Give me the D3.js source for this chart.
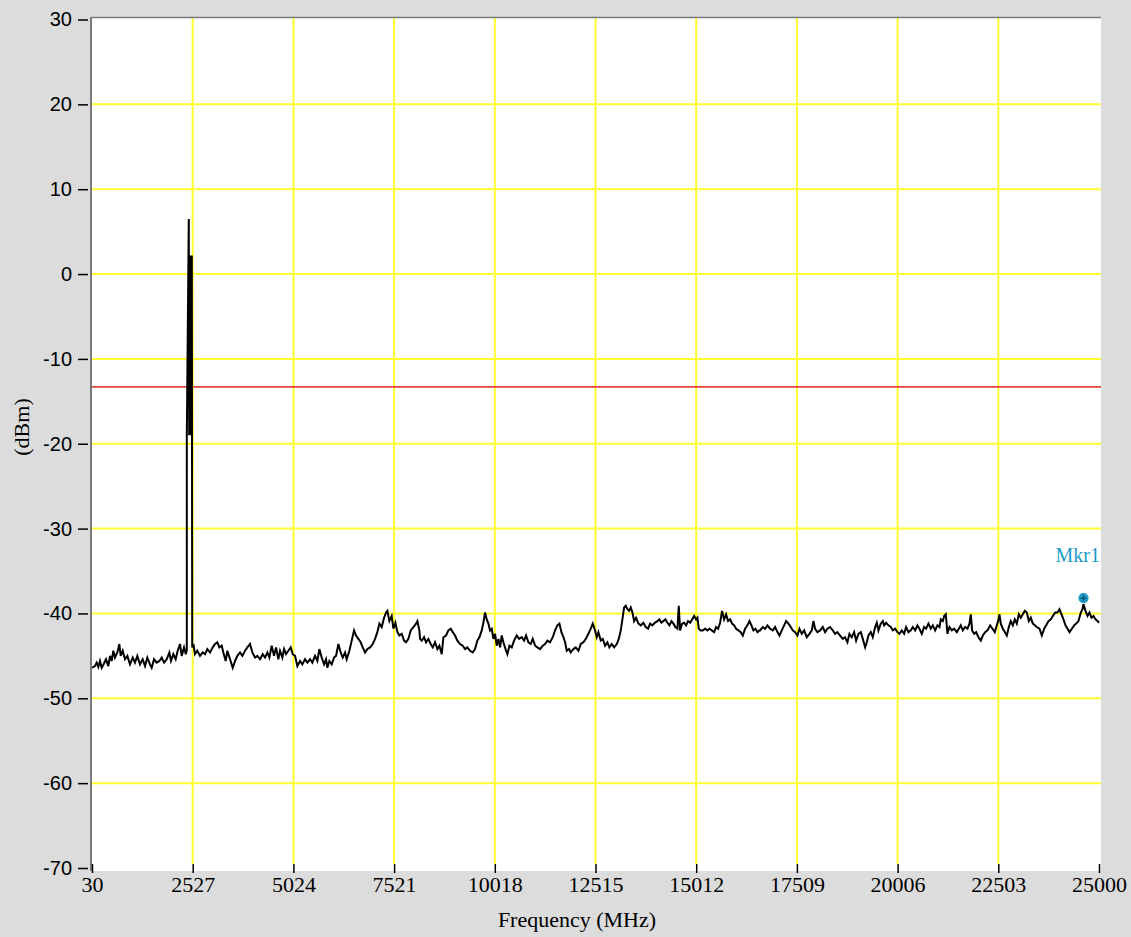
<!DOCTYPE html>
<html><head><meta charset="utf-8">
<script src="https://cdn.jsdelivr.net/npm/d3@7"></script>
<style>body{margin:0;background:#dcdcdc;} svg{display:block}</style>
</head><body>
<svg id="chart" width="1131" height="937"></svg>
<script>
// ---------- data ----------
const xTickValues = [30, 2527, 5024, 7521, 10018, 12515, 15012, 17509, 20006, 22503, 25000];
const yTickValues = [30, 20, 10, 0, -10, -20, -30, -40, -50, -60, -70];
const limitDbm = -13.3;
const markerFreq = 24615;
const markerDbm = -38.9;
const markerLabel = "Mkr1";
const xAxisTitle = "Frequency (MHz)";
const yAxisTitle = "(dBm)";
// trace: [frequency MHz, level dBm]
const traceData = [
[30,-46.4],[104,-46.2],[146,-45.8],[187,-46.3],[228,-45.6],[270,-46.4],[328,-45.9],[377,-45.4],[435,-46.2],[476,-45.0],[518,-45.6],[559,-44.4],[600,-45.2],[658,-44.6],[708,-43.6],[741,-45.0],[791,-44.4],[848,-45.4],[906,-45.0],[972,-46.0],[1039,-45.2],[1096,-45.8],[1154,-45.0],[1220,-46.0],[1287,-45.4],[1344,-46.2],[1402,-45.2],[1468,-46.0],[1510,-46.4],[1568,-45.4],[1634,-45.8],[1700,-45.6],[1758,-45.2],[1816,-45.8],[1882,-45.4],[1948,-44.6],[1989,-45.6],[2047,-44.8],[2105,-45.4],[2155,-44.4],[2212,-43.6],[2254,-45.0],[2312,-44.0],[2356,-44.8],
[2381,-44.3],[2381,-19.2],[2430,6.5],[2440,-19.0],[2470,2.2],[2480,-19.0],[2505,2.2],[2515,-44.0],
[2543,-43.6],[2584,-44.8],[2642,-44.4],[2708,-45.0],[2775,-44.6],[2833,-44.8],[2890,-44.2],[2957,-44.6],[3023,-44.0],[3081,-43.6],[3138,-43.4],[3188,-44.0],[3246,-43.8],[3287,-44.6],[3345,-45.6],[3386,-44.4],[3453,-45.4],[3519,-46.4],[3577,-45.6],[3634,-45.0],[3700,-44.6],[3758,-45.0],[3825,-44.4],[3882,-44.0],[3949,-43.6],[4006,-44.6],[4072,-45.2],[4130,-45.0],[4197,-45.4],[4263,-44.8],[4320,-45.2],[4378,-44.6],[4428,-45.2],[4486,-43.8],[4544,-45.0],[4593,-44.0],[4651,-45.4],[4692,-44.4],[4750,-45.2],[4792,-44.2],[4841,-44.8],[4899,-44.4],[4957,-44.0],[5007,-44.8],[5065,-45.0],[5122,-46.2],[5189,-45.6],[5246,-46.0],[5312,-45.4],[5370,-45.8],[5436,-45.4],[5494,-45.8],[5560,-45.0],[5618,-45.6],[5668,-44.2],[5726,-45.2],[5784,-46.0],[5833,-45.4],[5866,-46.4],[5916,-45.6],[5974,-46.0],[6032,-45.2],[6081,-45.0],[6139,-43.6],[6197,-44.6],[6247,-45.2],[6305,-44.6],[6346,-45.4],[6412,-44.4],[6470,-43.2],[6528,-42.0],[6577,-42.6],[6635,-43.0],[6693,-43.4],[6743,-44.0],[6801,-44.6],[6858,-44.2],[6925,-44.0],[6991,-43.6],[7049,-43.0],[7106,-42.2],[7156,-41.2],[7214,-41.6],[7272,-40.5],[7322,-39.9],[7355,-39.7],[7404,-40.9],[7462,-40.3],[7503,-41.8],[7553,-41.1],[7603,-42.2],[7652,-42.6],[7710,-42.4],[7768,-43.2],[7818,-43.4],[7875,-43.0],[7933,-42.0],[7999,-41.6],[8066,-41.2],[8099,-40.9],[8148,-42.0],
[8164,-43.0],[8206,-43.2],[8264,-42.8],[8313,-43.4],[8371,-43.0],[8429,-43.6],[8479,-44.0],[8536,-43.4],[8594,-44.2],[8644,-43.8],[8702,-44.8],[8743,-42.8],[8809,-42.6],[8867,-42.0],[8925,-41.8],[8975,-42.2],[9032,-42.6],[9090,-43.2],[9156,-43.6],[9223,-43.8],[9280,-44.2],[9338,-44.0],[9404,-44.4],[9471,-44.6],[9528,-44.2],[9586,-43.2],[9636,-42.8],[9694,-42.0],[9735,-41.1],[9776,-39.9],[9818,-40.7],[9859,-41.2],[9900,-42.0],[9942,-41.8],[9983,-43.0],[10024,-42.4],[10066,-43.8],[10107,-43.0],[10149,-44.0],[10190,-42.6],[10231,-43.4],[10297,-44.4],[10330,-44.8],[10380,-43.8],[10438,-44.0],[10496,-43.2],[10562,-42.6],[10620,-43.0],[10686,-42.8],[10744,-43.2],[10793,-42.6],[10851,-43.4],[10909,-43.6],[10959,-43.0],[11017,-43.8],[11074,-44.0],[11141,-44.2],[11207,-43.8],[11265,-43.6],[11322,-43.2],[11388,-43.4],[11455,-42.8],[11512,-42.0],[11570,-41.4],[11620,-41.2],[11670,-42.2],[11719,-42.8],[11761,-43.4],[11802,-44.4],[11860,-44.2],[11901,-44.6],[11967,-44.2],[12025,-44.0],[12091,-44.4],[12149,-43.6],[12215,-43.4],[12273,-43.0],[12339,-42.4],[12397,-41.8],[12447,-41.2],[12505,-42.0],[12546,-42.8],[12587,-42.2],[12645,-43.2],[12695,-43.0],[12753,-43.8],[12810,-43.4],[12860,-44.0],[12918,-43.6],[12976,-44.0],[13042,-43.6],[13092,-43.0],[13141,-42.0],[13182,-40.7],[13224,-39.3],[13265,-39.1],[13306,-39.5],[13348,-39.7],[13389,-39.3],[13431,-39.9],[13472,-40.9],[13521,-40.5],[13579,-41.2],[13637,-41.4],[13703,-41.1],[13761,-41.6],[13819,-41.8],[13869,-41.2],[13926,-41.4],[13984,-41.1],[14051,-40.9],[14100,-40.7],[14150,-41.1],[14199,-40.9],[14249,-40.7],[14298,-41.1],[14348,-41.4],[14398,-40.9],[14447,-41.2],[14497,-41.6],[14547,-41.8],[14580,-39.1],[14613,-42.0],[14662,-41.2],[14712,-41.1],[14761,-41.4],[14811,-40.9],[14861,-41.1],[14910,-40.7],[14960,-40.3],[15010,-40.7],[15043,-40.5],[15076,-41.8],[15125,-42.0],[15175,-42.0],[15233,-41.8],[15290,-42.0],[15340,-41.8],[15398,-42.0],[15456,-42.2],[15505,-41.6],[15555,-41.8],[15605,-41.1],[15654,-39.7],[15704,-40.7],[15753,-40.1],[15803,-40.9],[15853,-40.7],[15902,-41.2],[15952,-41.4],[16002,-41.8],[16059,-42.0],[16117,-42.2],[16167,-42.6],[16225,-41.8],[16282,-41.4],[16332,-40.9],[16382,-41.4],[16431,-42.0],[16481,-41.8],[16531,-42.2],[16580,-42.0],
[16596,-42.0],[16663,-41.6],[16720,-41.8],[16778,-41.4],[16844,-41.8],[16911,-42.0],[16968,-41.6],[17026,-42.2],[17076,-42.6],[17134,-42.0],[17192,-41.4],[17241,-40.9],[17299,-41.2],[17357,-41.6],[17407,-42.0],[17464,-42.2],[17522,-42.6],[17572,-41.8],[17630,-42.4],[17688,-42.0],[17754,-42.8],[17820,-42.4],[17878,-42.0],[17919,-40.9],[17960,-41.8],[18018,-42.2],[18084,-42.0],[18151,-41.6],[18208,-42.2],[18266,-41.8],[18333,-41.6],[18399,-42.0],[18457,-42.4],[18514,-42.2],[18580,-42.6],[18647,-43.0],[18704,-42.8],[18762,-43.4],[18812,-42.4],[18870,-42.8],[18928,-42.2],[18977,-43.2],[19035,-42.4],[19093,-42.2],[19143,-43.0],[19201,-44.0],[19242,-43.4],[19283,-42.6],[19341,-42.2],[19391,-42.8],[19449,-41.6],[19490,-41.1],[19531,-42.0],[19589,-41.2],[19639,-40.9],[19672,-41.4],[19721,-41.1],[19779,-41.4],[19837,-41.6],[19887,-42.0],[19945,-41.8],[20002,-42.2],[20052,-42.4],[20110,-42.0],[20168,-42.4],[20217,-41.6],[20275,-42.2],[20333,-42.0],[20383,-41.6],[20441,-42.0],[20498,-41.4],[20548,-41.8],[20606,-42.4],[20664,-41.6],[20713,-41.8],[20771,-41.2],[20829,-41.8],[20879,-41.4],[20937,-42.0],[20994,-41.4],[21044,-41.6],[21077,-40.7],[21127,-40.9],[21160,-40.3],[21201,-40.1],[21242,-42.4],[21292,-41.6],[21350,-42.0],[21408,-41.8],[21474,-42.2],[21524,-41.8],[21573,-41.4],[21623,-42.0],[21681,-41.6],[21739,-41.8],[21788,-41.2],[21821,-40.1],[21854,-42.0],[21904,-42.4],[21954,-42.2],[22011,-42.8],[22069,-43.2],[22119,-42.6],[22177,-42.2],[22235,-42.0],[22301,-41.4],[22359,-41.8],[22416,-42.2],[22466,-41.4],[22499,-40.9],[22532,-40.1],[22565,-41.2],[22615,-41.8],[22664,-42.2],[22714,-42.6],[22764,-41.6],[22813,-40.9],[22863,-41.4],[22912,-40.7],[22962,-41.2],[23012,-40.1],[23061,-40.5],[23111,-40.1],[23160,-39.7],[23210,-39.9],[23260,-40.9],[23309,-40.5],[23359,-41.2],[23408,-41.4],[23458,-41.6],[23524,-41.8],[23582,-42.6],[23640,-41.8],[23690,-41.4],[23747,-40.9],[23805,-40.7],[23855,-40.3],[23913,-39.9],[23970,-39.9],[24020,-39.5],[24070,-40.1],[24119,-40.7],[24169,-41.4],[24219,-41.8],[24268,-42.2],[24326,-41.8],[24384,-41.4],[24434,-41.2],[24491,-40.9],[24549,-39.9],[24591,-39.5],[24615,-38.9],[24665,-39.7],[24715,-40.3],[24764,-39.9],[24814,-40.5],[24864,-40.3],[24913,-40.7],[24963,-40.9],[25000,-41.1]
];

// ---------- layout ----------
const plot = {left: 91, right: 1101, top: 17, bottom: 871};
const x = d3.scaleLinear().domain([30, 25000]).range([92, 1099]);
const y = d3.scaleLinear().domain([-70, 30]).range([868, 19.5]);
const gridYEnd = 864;
const svg = d3.select("#chart");

svg.append("rect").attr("width", 1131).attr("height", 937).attr("fill", "#dcdcdc");
svg.append("rect").attr("x", plot.left).attr("y", plot.top)
  .attr("width", plot.right - plot.left).attr("height", plot.bottom - plot.top).attr("fill", "#ffffff");

svg.append("clipPath").attr("id", "clip").append("rect")
  .attr("x", plot.left).attr("y", plot.top)
  .attr("width", plot.right - plot.left).attr("height", plot.bottom - plot.top);

const inner = svg.append("g").attr("clip-path", "url(#clip)");

// grid
const yGrid = yTickValues.slice(1, -1);
const xGrid = xTickValues.slice(1, -1);
inner.selectAll("line.hg").data(yGrid).join("line").attr("class", "hg")
  .attr("x1", plot.left).attr("x2", plot.right)
  .attr("y1", d => y(d)).attr("y2", d => y(d))
  .attr("stroke", "#ffff30").attr("stroke-width", 2);
inner.selectAll("line.vg").data(xGrid).join("line").attr("class", "vg")
  .attr("x1", d => x(d)).attr("x2", d => x(d))
  .attr("y1", plot.top).attr("y2", gridYEnd)
  .attr("stroke", "#ffff30").attr("stroke-width", 2);

// limit line
inner.append("line")
  .attr("x1", plot.left).attr("x2", plot.right)
  .attr("y1", y(limitDbm)).attr("y2", y(limitDbm))
  .attr("stroke", "#e2453c").attr("stroke-width", 1.6);

// trace
const line = d3.line().x(d => x(d[0])).y(d => y(d[1]));
inner.append("path").datum(traceData)
  .attr("d", line).attr("fill", "none")
  .attr("stroke", "#000").attr("stroke-width", 2).attr("stroke-linejoin", "miter");

// marker
const mx = x(markerFreq), my = y(markerDbm) - 6;
const mColor = "#1a9bc8";
inner.append("circle").attr("cx", mx).attr("cy", my).attr("r", 4.5)
  .attr("fill", mColor).attr("stroke", mColor).attr("stroke-width", 1.2);
inner.append("line").attr("x1", mx - 3).attr("x2", mx + 3).attr("y1", my).attr("y2", my)
  .attr("stroke", "#0b4e6a").attr("stroke-width", 1.2);
inner.append("line").attr("x1", mx).attr("x2", mx).attr("y1", my - 3).attr("y2", my + 3)
  .attr("stroke", "#0b4e6a").attr("stroke-width", 1.2);
inner.append("text").attr("x", plot.right - 1).attr("y", 562)
  .attr("text-anchor", "end").attr("fill", mColor)
  .style("font-family", "'Liberation Serif', 'DejaVu Serif', serif").style("font-size", "20px")
  .text(markerLabel);

// borders
svg.append("line").attr("x1", plot.left).attr("x2", plot.left).attr("y1", plot.top).attr("y2", plot.bottom)
  .attr("stroke", "#7a7a7a").attr("stroke-width", 2);
svg.append("line").attr("x1", plot.left).attr("x2", plot.right).attr("y1", plot.top + 0.5).attr("y2", plot.top + 0.5)
  .attr("stroke", "#7a7a7a").attr("stroke-width", 1.5);

// y axis
const yAxis = d3.axisLeft(y).tickValues(yTickValues).tickSize(10).tickPadding(6).tickFormat(d => String(d));
const gy = svg.append("g").attr("transform", "translate(88,0)").call(yAxis);
gy.select(".domain").remove();
gy.selectAll(".tick line").attr("stroke", "#000").attr("stroke-width", 1.5);
gy.selectAll(".tick text").attr("fill", "#000")
  .style("font-family", "'Liberation Sans', Arial, sans-serif").style("font-size", "20px");

// x axis
const xAxis = d3.axisBottom(x).tickValues(xTickValues).tickSize(9).tickPadding(3).tickFormat(d => String(d));
const gx = svg.append("g").attr("transform", `translate(0,${gridYEnd})`).call(xAxis);
gx.select(".domain").remove();
gx.selectAll(".tick line").attr("stroke", "#000").attr("stroke-width", 1.5);
gx.selectAll(".tick text").attr("fill", "#000")
  .style("font-family", "'Liberation Serif', 'Times New Roman', serif").style("font-size", "22px");

// titles
svg.append("text").attr("x", 577).attr("y", 927).attr("text-anchor", "middle")
  .style("font-family", "'Liberation Serif', 'Times New Roman', serif").style("font-size", "22px")
  .text(xAxisTitle);
svg.append("text").attr("transform", "translate(29,427) rotate(-90)").attr("text-anchor", "middle")
  .style("font-family", "'Liberation Serif', 'Times New Roman', serif").style("font-size", "22px")
  .text(yAxisTitle);
</script>
</body></html>
